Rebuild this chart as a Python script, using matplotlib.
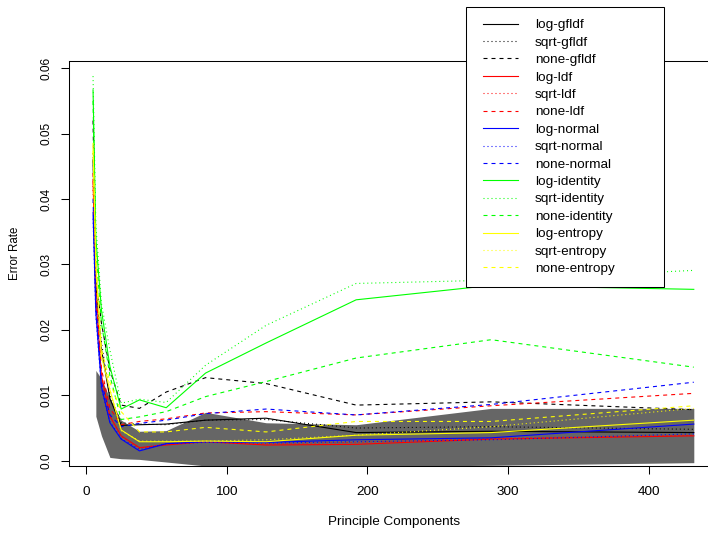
import matplotlib
matplotlib.use('Agg')
import matplotlib.pyplot as plt
from matplotlib.patches import Rectangle
from matplotlib.lines import Line2D

plt.rcParams['font.family'] = ['Liberation Sans', 'DejaVu Sans']

# number of principle components
pcs = [5, 7, 11, 17, 25, 38, 57, 85, 128, 192, 288, 432]

# grey band (drawn from the 2nd point on)
band_x = pcs[1:]
band_lo = [0.0068, 0.0038, 0.0005, 0.0003, 0.0002, -0.0002, -0.0008, -0.0010, -0.0009, -0.0007, -0.0003]
band_hi = [0.0138, 0.0125, 0.0095, 0.0062, 0.0045, 0.0046, 0.0074, 0.0058, 0.0055, 0.0080, 0.0080]

# error rates, one list per transform-weighting
log_gfldf = [0.0460, 0.0270, 0.0170, 0.0095, 0.0054, 0.0055, 0.0056, 0.0062, 0.0065, 0.0043, 0.0045, 0.0043]
sqrt_gfldf = [0.0470, 0.0280, 0.0180, 0.0100, 0.0058, 0.0056, 0.0055, 0.0062, 0.0063, 0.0050, 0.0052, 0.0048]
none_gfldf = [0.0520, 0.0280, 0.0210, 0.0139, 0.0085, 0.0080, 0.0105, 0.0127, 0.0118, 0.0085, 0.0090, 0.0078]
log_ldf = [0.0430, 0.0250, 0.0130, 0.0068, 0.0038, 0.0020, 0.0024, 0.0029, 0.0024, 0.0025, 0.0033, 0.0038]
sqrt_ldf = [0.0420, 0.0240, 0.0125, 0.0068, 0.0037, 0.0019, 0.0026, 0.0030, 0.0026, 0.0028, 0.0034, 0.0039]
none_ldf = [0.0440, 0.0260, 0.0140, 0.0080, 0.0055, 0.0060, 0.0064, 0.0073, 0.0075, 0.0070, 0.0084, 0.0103]
log_normal = [0.0380, 0.0226, 0.0113, 0.0058, 0.0033, 0.0015, 0.0026, 0.0029, 0.0028, 0.0032, 0.0035, 0.0056]
sqrt_normal = [0.0370, 0.0220, 0.0110, 0.0060, 0.0034, 0.0017, 0.0026, 0.0028, 0.0027, 0.0029, 0.0032, 0.0041]
none_normal = [0.0400, 0.0240, 0.0120, 0.0070, 0.0052, 0.0057, 0.0062, 0.0072, 0.0079, 0.0070, 0.0086, 0.0120]
log_identity = [0.0567, 0.0340, 0.0230, 0.0144, 0.0079, 0.0093, 0.0081, 0.0134, 0.0180, 0.0246, 0.0268, 0.0262]
sqrt_identity = [0.0588, 0.0360, 0.0240, 0.0169, 0.0088, 0.0094, 0.0089, 0.0146, 0.0207, 0.0271, 0.0276, 0.0291]
none_identity = [0.0550, 0.0320, 0.0210, 0.0130, 0.0063, 0.0067, 0.0075, 0.0098, 0.0121, 0.0157, 0.0185, 0.0143]
log_entropy = [0.0480, 0.0300, 0.0159, 0.0108, 0.0047, 0.0029, 0.0029, 0.0030, 0.0029, 0.0039, 0.0043, 0.0062]
sqrt_entropy = [0.0470, 0.0290, 0.0160, 0.0110, 0.0046, 0.0030, 0.0030, 0.0030, 0.0032, 0.0039, 0.0052, 0.0080]
none_entropy = [0.0486, 0.0310, 0.0170, 0.0120, 0.0075, 0.0044, 0.0044, 0.0051, 0.0044, 0.0060, 0.0060, 0.0084]

labels = ['log-gfldf', 'sqrt-gfldf', 'none-gfldf',
          'log-ldf', 'sqrt-ldf', 'none-ldf',
          'log-normal', 'sqrt-normal', 'none-normal',
          'log-identity', 'sqrt-identity', 'none-identity',
          'log-entropy', 'sqrt-entropy', 'none-entropy']
series = [log_gfldf, sqrt_gfldf, none_gfldf, log_ldf, sqrt_ldf, none_ldf,
          log_normal, sqrt_normal, none_normal, log_identity, sqrt_identity, none_identity,
          log_entropy, sqrt_entropy, none_entropy]

colours = {'gfldf': 'black', 'ldf': '#ff0000', 'normal': '#0000ff',
           'identity': '#00ff00', 'entropy': '#ffff00'}
# R lty: 1 solid, 3 dotted, 2 dashed
styles = {'log': '-', 'sqrt': (0, (0.9, 2.7)), 'none': (0, (3.6, 3.6))}
lw = 0.8

fig = plt.figure(figsize=(7.08, 5.33), dpi=100)
ax = fig.add_axes([69.3/708, 67/533, (718-69.3)/708, 405.3/533])

ax.fill_between(band_x, band_lo, band_hi, color='#666666', lw=0, zorder=1)

handles = []
for name, vals in zip(labels, series):
    tr, wt = name.split('-')
    ax.plot(pcs, vals, color=colours[wt], ls=styles[tr], lw=lw, zorder=2)
    handles.append(Line2D([], [], color=colours[wt], ls=styles[tr], lw=lw))

ax.set_xlim(-11.87, 449.2)
ax.set_ylim(-0.00081, 0.06116)
ax.set_xticks([0, 100, 200, 300, 400])
ax.set_yticks([0, 0.01, 0.02, 0.03, 0.04, 0.05, 0.06])
ax.set_yticklabels(['0.0', '0.01', '0.02', '0.03', '0.04', '0.05', '0.06'])
ax.tick_params(length=5.5, width=0.75, direction='out', color='black')
ax.tick_params(axis='x', pad=9, labelsize=9.7)
ax.tick_params(axis='y', pad=6.6, labelsize=8.6, labelrotation=90)
for lab in ax.get_yticklabels():
    lab.set_va('center')
for sp in ax.spines.values():
    sp.set_linewidth(0.75)

ax.set_xlabel('Principle Components', fontsize=9.7)
ax.xaxis.label.set_va('center')
ax.xaxis.set_label_coords(0.5, -(522-466)/405.3)
ax.set_ylabel('Error Rate', fontsize=8.3)
ax.yaxis.label.set_va('center')
ax.yaxis.set_label_coords((15-69.3)/648.7, (466-253)/405.3)

# legend box sticks out above the plot like in R
box = Rectangle((466/708, 1-286.7/533), 198/708, 280/533, transform=fig.transFigure,
                fc='white', ec='black', lw=0.75, zorder=4)
fig.add_artist(box)
leg = fig.legend(handles, labels, loc='upper left', bbox_to_anchor=(482.7/708, 1-18.9/533),
                 frameon=False, borderpad=0, borderaxespad=0, handlelength=2.6,
                 handletextpad=1.29, labelspacing=0.37, fontsize=9.7)
leg.set_zorder(5)

fig.savefig('out.png', dpi=100, facecolor='white')
